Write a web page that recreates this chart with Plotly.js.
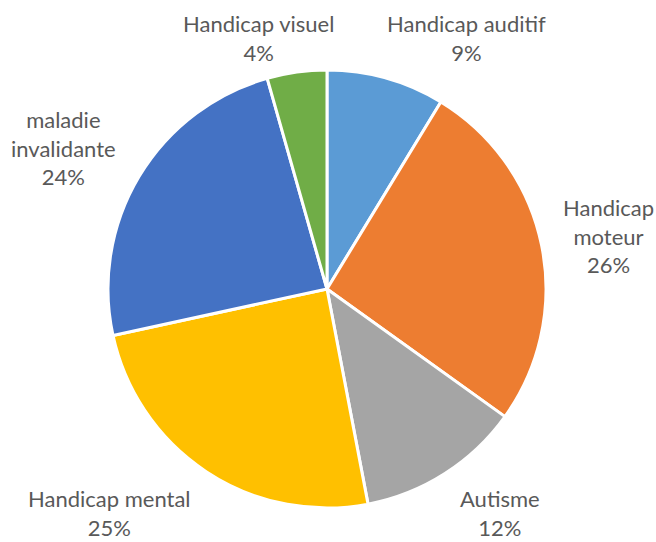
<!DOCTYPE html>
<html>
<head>
<meta charset="utf-8">
<script src="https://cdn.plot.ly/plotly-3.0.1.min.js"></script>
<style>html,body{margin:0;padding:0;background:#fff;}#chart{width:656px;height:542px;}</style>
</head>
<body>
<div id="chart"></div>
<script>
const categories = ["Handicap auditif", "Handicap moteur", "Autisme", "Handicap mental", "maladie invalidante", "Handicap visuel"];
const displayLabels = ["Handicap auditif", "Handicap<br>moteur", "Autisme", "Handicap mental", "maladie<br>invalidante", "Handicap visuel"];
const values = [8.7, 26.2, 12.1, 24.6, 24.0, 4.4];
const colors = ["#5B9BD5", "#ED7D31", "#A5A5A5", "#FFC000", "#4472C4", "#70AD47"];

// label anchor positions (px, center of text block), layout only
const labelPos = [[466, 38], [608, 236], [500, 513], [109, 513], [63, 148], [258, 38]];

const W = 656, H = 542;
const total = values.reduce((a, b) => a + b, 0);
const FONT = {family: "Lato, 'Open Sans', sans-serif", size: 22, color: "#595959"};

const trace = {
  type: "pie",
  labels: categories,
  values: values,
  sort: false,
  direction: "clockwise",
  rotation: 0,
  marker: {colors: colors, line: {color: "#ffffff", width: 3}},
  textinfo: "none",
  domain: {x: [108/W, 546/W], y: [34/H, 472/H]},
  hoverinfo: "label+percent"
};

const annotations = categories.map((c, i) => ({
  xref: "paper", yref: "paper",
  x: labelPos[i][0] / W, y: 1 - labelPos[i][1] / H,
  xanchor: "center", yanchor: "middle",
  text: displayLabels[i] + "<br>" + Math.round(values[i] / total * 100) + "%",
  showarrow: false,
  font: FONT
}));

const layout = {
  width: W, height: H,
  margin: {l: 0, r: 0, t: 0, b: 0},
  showlegend: false,
  paper_bgcolor: "#ffffff",
  font: FONT,
  annotations: annotations
};

Plotly.newPlot("chart", [trace], layout, {displayModeBar: false, staticPlot: true});
</script>
</body>
</html>
